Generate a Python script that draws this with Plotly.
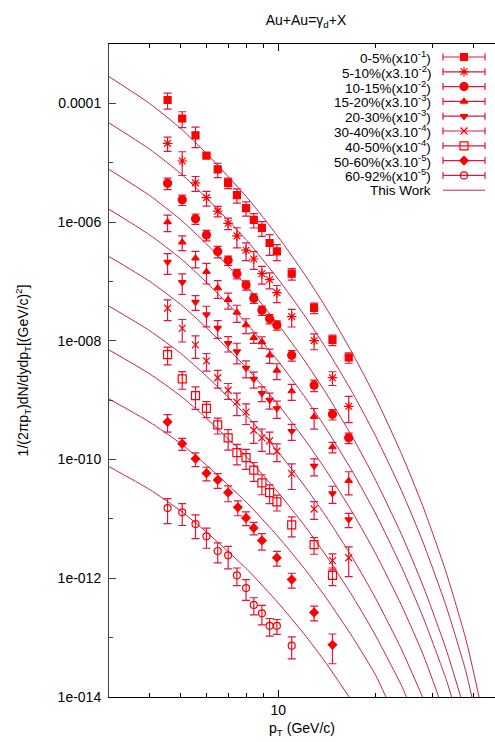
import plotly.graph_objects as go

# ---------------- data (plotted values, already scaled) ----------------
pt = [4.55, 5.05, 5.55, 6.0, 6.5, 7.0, 7.45, 7.95, 8.4, 8.9, 9.4, 9.9, 11.0, 12.9, 14.7, 16.5]
pt8 = [4.55, 5.05, 5.55, 6.0, 6.5, 7.0, 7.5, 7.95, 8.4, 8.9, 9.9, 11.0, 12.9, 14.7]

s1 = [1.14e-4, 5.56e-5, 2.89e-5, 1.32e-5, 7.71e-6, 4.58e-6, 2.85e-6, 1.72e-6, 1.09e-6, 7.98e-7, 4.44e-7, 3.20e-7, 1.35e-7, 3.60e-8, 1.04e-8, 5.24e-9]
s1_rel = [0.30, 0.30, 0.38, 0.06, 0.27, 0.20, 0.27, 0.27, 0.27, 0.28, 0.38, 0.30, 0.22, 0.20, 0.20, 0.20]
s2 = [2.12e-5, 1.07e-5, 4.58e-6, 2.58e-6, 1.53e-6, 9.55e-7, 5.86e-7, 3.36e-7, 2.39e-7, 1.35e-7, 1.07e-7, 6.47e-8, 2.55e-8, 1.01e-8, 2.39e-9, 7.89e-10]
s2_rel = [0.27, 0.43, 0.28, 0.28, 0.20, 0.22, 0.37, 0.33, 0.33, 0.33, 0.30, 0.32, 0.33, 0.30, 0.26, 0.47]
s3 = [4.50e-6, 2.38e-6, 1.14e-6, 6.05e-7, 3.20e-7, 2.27e-7, 1.35e-7, 8.68e-8, 5.23e-8, 3.26e-8, 2.35e-8, 1.84e-8, 5.69e-9, 1.79e-9, 5.79e-10, 2.32e-10]
s3_rel = [0.22, 0.20, 0.20, 0.20, 0.22, 0.18, 0.18, 0.18, 0.18, 0.18, 0.18, 0.18, 0.20, 0.22, 0.20, 0.20]
s4 = [1.00e-6, 4.58e-7, 2.46e-7, 1.46e-7, 7.74e-8, 4.90e-8, 3.01e-8, 1.84e-8, 1.13e-8, 9.59e-9, 5.69e-9, 3.16e-9, 1.42e-9, 5.25e-10, 1.62e-10, 4.39e-11]
s4_rel = [0.31, 0.28, 0.31, 0.38, 0.33, 0.30, 0.32, 0.28, 0.20, 0.22, 0.27, 0.30, 0.30, 0.38, 0.20, 0.42]
s5 = [2.13e-7, 9.72e-8, 4.52e-8, 2.77e-8, 1.64e-8, 9.12e-9, 6.59e-9, 3.48e-9, 2.28e-9, 1.31e-9, 1.01e-9, 7.28e-10, 3.01e-10, 7.78e-11, 2.69e-11, 9.79e-12]
s5_rel = [0.38, 0.38, 0.28, 0.38, 0.33, 0.29, 0.38, 0.32, 0.30, 0.28, 0.30, 0.32, 0.30, 0.32, 0.32, 0.27]
s6 = [3.54e-8, 1.62e-8, 8.56e-9, 4.60e-9, 2.39e-9, 1.47e-9, 9.29e-10, 6.28e-10, 3.11e-10, 2.32e-10, 2.07e-10, 1.38e-10, 5.80e-11, 1.47e-11, 1.98e-12, 2.22e-12]
s6_rel = [0.38, 0.41, 0.41, 0.33, 0.33, 0.30, 0.41, 0.38, 0.40, 0.41, 0.40, 0.33, 0.46, 0.33, 0.30, 0.52]
s7 = [5.87e-9, 2.28e-9, 1.19e-9, 7.28e-10, 3.85e-10, 2.32e-10, 1.31e-10, 1.08e-10, 6.61e-11, 4.05e-11, 2.78e-11, 1.94e-11, 7.92e-12, 3.68e-12, 1.12e-12]
s7_rel = [0.33, 0.33, 0.41, 0.30, 0.30, 0.38, 0.38, 0.37, 0.35, 0.37, 0.35, 0.30, 0.37, 0.31, 0.33]
s8 = [4.31e-10, 1.85e-10, 1.03e-10, 5.89e-11, 4.54e-11, 2.78e-11, 1.57e-11, 1.04e-11, 7.06e-12, 4.33e-12, 2.22e-12, 9.49e-13, 2.66e-13, 7.57e-14]
s8_rel = [0.33, 0.23, 0.26, 0.26, 0.28, 0.30, 0.28, 0.26, 0.24, 0.31, 0.28, 0.28, 0.28, 0.52]
s9 = [1.52e-11, 1.29e-11, 8.18e-12, 5.09e-12, 2.88e-12, 2.44e-12, 1.12e-12, 6.85e-13, 3.56e-13, 2.57e-13, 1.58e-13, 1.58e-13, 7.33e-14]
s9_rel = [0.45, 0.40, 0.43, 0.37, 0.37, 0.41, 0.33, 0.38, 0.32, 0.36, 0.33, 0.28, 0.40]

# model curves ("This Work")
cpt = [3, 4, 5, 6, 8, 10, 12, 14, 17, 20, 24, 28, 33, 38]
c1_pt = cpt + [41.7]
c1 = [2.82e-4, 1.00e-4, 3.75e-5, 1.43e-5, 2.61e-6, 5.60e-7, 1.37e-7, 3.71e-8, 5.98e-9, 1.09e-9, 1.26e-10, 1.60e-11, 1.25e-12, 9.20e-14, 1.0e-14]
c2_pt = cpt + [39.6]
c2 = [4.68e-5, 1.70e-5, 6.55e-6, 2.55e-6, 4.88e-7, 1.09e-7, 2.76e-8, 7.69e-9, 1.30e-9, 2.46e-10, 3.02e-11, 4.02e-12, 3.37e-13, 2.64e-14, 1.0e-14]
c3_pt = cpt[:13] + [36.6]
c3 = [7.71e-6, 2.82e-6, 1.09e-6, 4.29e-7, 8.30e-8, 1.87e-8, 4.80e-9, 1.35e-9, 2.31e-10, 4.43e-11, 5.51e-12, 7.45e-13, 6.34e-14, 1.0e-14]
c4_pt = cpt[:13] + [34.3]
c4 = [1.64e-6, 6.12e-7, 2.42e-7, 9.66e-8, 1.94e-8, 4.50e-9, 1.19e-9, 3.43e-10, 6.08e-11, 1.21e-11, 1.57e-12, 2.21e-13, 1.98e-14, 1.0e-14]
c5_pt = cpt[:12] + [31.3]
c5 = [2.63e-7, 1.01e-7, 4.07e-8, 1.66e-8, 3.46e-9, 8.34e-10, 2.27e-10, 6.76e-11, 1.25e-11, 2.58e-12, 3.52e-13, 5.21e-14, 1.0e-14]
c6_pt = cpt[:11] + [27.9]
c6 = [3.84e-8, 1.49e-8, 6.12e-9, 2.54e-9, 5.42e-10, 1.33e-10, 3.72e-11, 1.13e-11, 2.15e-12, 4.54e-13, 6.40e-14, 1.0e-14]
c7_pt = cpt[:11] + [24.9]
c7 = [7.03e-9, 2.79e-9, 1.17e-9, 4.94e-10, 1.09e-10, 2.77e-11, 7.93e-12, 2.47e-12, 4.88e-13, 1.07e-13, 1.57e-14, 1.0e-14]
c8_pt = cpt[:10] + [21.5]
c8 = [1.05e-9, 4.30e-10, 1.85e-10, 8.04e-11, 1.87e-11, 4.97e-12, 1.49e-12, 4.81e-13, 1.00e-13, 2.31e-14, 1.0e-14]
c9_pt = cpt[:8] + [16.56]
c9 = [7.59e-11, 3.14e-11, 1.36e-11, 6.00e-12, 1.42e-12, 3.83e-13, 1.16e-13, 3.81e-14, 1.0e-14]

labels = ["0-5%(x10<sup>-1</sup>)", "5-10%(x3.10<sup>-2</sup>)", "10-15%(x10<sup>-2</sup>)",
          "15-20%(x3.10<sup>-3</sup>)", "20-30%(x10<sup>-3</sup>)", "30-40%(x3.10<sup>-4</sup>)",
          "40-50%(x10<sup>-4</sup>)", "50-60%(x3.10<sup>-5</sup>)", "60-92%(x10<sup>-5</sup>)"]
model_label = "This Work"

x_minor_ticks = [4, 5, 6, 7, 8, 9, 20, 30, 40]
x_major_ticks = [10]
y_major = [1e-4, 1e-6, 1e-8, 1e-10, 1e-12, 1e-14]
y_major_text = ["0.0001", "1e-006", "1e-008", "1e-010", "1e-012", "1e-014"]
y_minor = [1e-5, 1e-7, 1e-9, 1e-11, 1e-13]

# ---------------- styling ----------------
RED = "#ff0000"
ERR = "#e0163e"
LINE = "#c4244f"
FONT = "Liberation Sans, Arial, sans-serif"

series = [
    (pt, s1, s1_rel, "square", 7),
    (pt, s2, s2_rel, "asterisk-open", 8),
    (pt, s3, s3_rel, "circle", 8),
    (pt, s4, s4_rel, "triangle-up", 6.5),
    (pt, s5, s5_rel, "triangle-down", 6.5),
    (pt, s6, s6_rel, "x-thin-open", 7),
    (pt[:15], s7, s7_rel, "square-open", 8),
    (pt8, s8, s8_rel, "diamond", 6.5),
    (pt[:13], s9, s9_rel, "circle-open", 7),
]
curves = [(c1_pt, c1), (c2_pt, c2), (c3_pt, c3), (c4_pt, c4), (c5_pt, c5),
          (c6_pt, c6), (c7_pt, c7), (c8_pt, c8), (c9_pt, c9)]

fig = go.Figure()

for cx, cy in curves:
    fig.add_trace(go.Scatter(x=cx, y=cy, mode="lines",
                             line=dict(color=LINE, width=1, shape="spline", smoothing=0.6),
                             showlegend=False, hoverinfo="skip"))

for xs, ys, rel, sym, size in series:
    err = [v * r for v, r in zip(ys, rel)]
    fig.add_trace(go.Scatter(
        x=xs, y=ys, mode="markers",
        marker=dict(symbol=sym, size=size, color=RED, line=dict(color=RED, width=1.2)),
        error_y=dict(type="data", array=err, symmetric=True, color=ERR, thickness=1.2, width=4),
        showlegend=False))

# ---------------- gnuplot-style key (text left, sample right) ----------------
L, R, T, B = 109, 495, 44, 697
key_y0, key_dy = 57, 14.8
key_text_x, key_mark_x, key_half = 433, 464, 21
for i, (xs, ys, rel, sym, size) in enumerate(series):
    yy = key_y0 + i * key_dy
    fig.add_trace(go.Scatter(
        x=[key_mark_x], y=[yy], xaxis="x2", yaxis="y2", mode="markers",
        marker=dict(symbol=sym, size=size, color=RED, line=dict(color=RED, width=1.2)),
        error_x=dict(type="data", array=[key_half], color=ERR, thickness=1.2, width=3.5),
        showlegend=False, hoverinfo="skip"))
    fig.add_annotation(x=key_text_x, y=yy, xref="x2", yref="y2", text=labels[i], showarrow=False,
                       xanchor="right", yanchor="middle", font=dict(family=FONT, size=13.5, color="black"))
yy = key_y0 + 9 * key_dy
fig.add_trace(go.Scatter(x=[key_mark_x - key_half, key_mark_x + key_half], y=[yy, yy], xaxis="x2", yaxis="y2",
                         mode="lines", line=dict(color=LINE, width=1), showlegend=False, hoverinfo="skip"))
fig.add_annotation(x=key_text_x, y=yy, xref="x2", yref="y2", text=model_label, showarrow=False,
                   xanchor="right", yanchor="middle", font=dict(family=FONT, size=13.5, color="black"))

fig.update_layout(
    width=495, height=742,
    margin=dict(l=L, r=495 - R, t=T, b=742 - B, pad=0),
    paper_bgcolor="white", plot_bgcolor="white",
    font=dict(family=FONT, size=14, color="black"),
    title=dict(text="Au+Au=\u03b3<sub>d</sub>+X", x=306 / 495, xanchor="center", y=1 - 20 / 742, yanchor="middle",
               font=dict(family=FONT, size=14)),
    xaxis=dict(type="log", range=[0.47712, 1.6693], showgrid=False, zeroline=False,
               showline=True, linecolor="black", linewidth=1, mirror="ticks",
               tickmode="array", tickvals=x_major_ticks, ticktext=["10"], ticks="inside", ticklen=7,
               tickcolor="black",
               minor=dict(tickmode="array", tickvals=x_minor_ticks, ticks="inside", ticklen=4,
                          tickcolor="black", showgrid=False),
               tickfont=dict(family=FONT, size=14),
               title=dict(text="p<sub>T</sub> (GeV/c)", font=dict(family=FONT, size=14), standoff=6)),
    yaxis=dict(type="log", range=[-14, -3], showgrid=False, zeroline=False,
               showline=True, linecolor="#444444", linewidth=1, mirror=False,
               tickmode="array", tickvals=y_major, ticktext=y_major_text, ticks="inside", ticklen=7,
               tickcolor="#444444",
               minor=dict(tickmode="array", tickvals=y_minor, ticks="inside", ticklen=4, tickcolor="#444444",
                          showgrid=False),
               tickfont=dict(family=FONT, size=14), ticklabelstandoff=4,
               title=dict(text="1/(2\u03c0p<sub>T</sub>)dN/dydp<sub>T</sub>[(GeV/c)<sup>2</sup>]",
                          font=dict(family=FONT, size=14), standoff=25)),
    xaxis2=dict(overlaying="x", range=[L, R], visible=False, fixedrange=True),
    yaxis2=dict(overlaying="y", range=[B, T], visible=False, fixedrange=True),
)

fig.write_html("out.html")
